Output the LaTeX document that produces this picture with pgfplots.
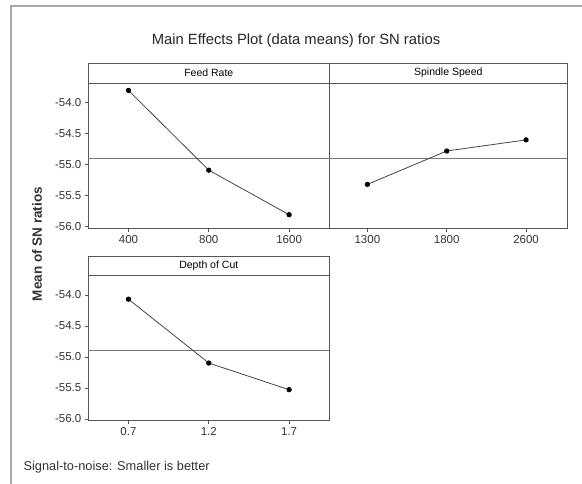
\documentclass[border=0pt]{standalone}
\usepackage{fontspec}
\setmainfont{Liberation Sans}
\usepackage{pgfplots}
\pgfplotsset{compat=1.18}
\definecolor{axgray}{RGB}{85,85,85}
\definecolor{linegray}{RGB}{70,70,70}
\definecolor{meangray}{RGB}{120,120,120}
\definecolor{framegray}{RGB}{170,170,170}
\pgfplotsset{
  mepanel/.style={
    scale only axis, anchor=north west,
    ymin=-56.03, ymax=-53.68,
    xtick={0,1,2},
    axis line style={axgray, line width=0.8pt},
    tick style={axgray, line width=0.6pt},
    tick align=outside, major tick length=3.5pt,
    xtick pos=bottom, ytick pos=left,
    tick label style={font=\fontsize{11.5}{12}\selectfont, text=black!80},
    clip=false,
  },
  effline/.style={linegray, line width=0.8pt, mark=*, mark size=2.2pt, mark options={fill=black, draw=black}},
  meanline/.style={meangray, line width=0.9pt, no marks},
}
\newcommand{\stripfont}{\fontsize{10.5}{12}\selectfont}
\begin{document}
\begin{tikzpicture}
\path[use as bounding box] (0pt,0pt) rectangle (582pt,-484pt);
\draw[framegray, line width=2pt] (11pt,-484pt) -- (11pt,-6pt) -- (582pt,-6pt);
\node[font=\fontsize{14.8}{16}\selectfont, text=black!85] at (296pt,-41pt) {Main Effects Plot (data means) for SN ratios};
\node[rotate=90, font=\bfseries\fontsize{13.5}{15}\selectfont, text=black!80] at (37pt,-244pt) {Mean of SN ratios};
\node[anchor=west, font=\fontsize{12.8}{14}\selectfont, text=black!80] at (20pt,-467pt) {Signal-to-noise: Smaller is better};

% Feed Rate
\begin{axis}[mepanel, at={(88.3pt,-83pt)}, width=241pt, height=145.3pt,
  xmin=-0.5, xmax=2.5, xticklabels={400,800,1600},
  ytick={-56,-55.5,-55,-54.5,-54}, yticklabels={-56.0,-55.5,-55.0,-54.5,-54.0}]
\addplot[meanline] coordinates {(-0.5,-54.90) (2.5,-54.90)};
\addplot[effline] coordinates {(0,-53.80) (1,-55.09) (2,-55.81)};
\draw[axgray, line width=0.8pt] (rel axis cs:0,1) rectangle ([yshift=20pt]rel axis cs:1,1);
\node[font=\stripfont] at ([yshift=10pt]rel axis cs:0.5,1) {Feed Rate};
\end{axis}

% Spindle Speed
\begin{axis}[mepanel, at={(329.3pt,-83pt)}, width=238pt, height=145.3pt,
  xmin=-0.48, xmax=2.52, xticklabels={1300,1800,2600},
  ytick=\empty]
\addplot[meanline] coordinates {(-0.48,-54.90) (2.52,-54.90)};
\addplot[effline] coordinates {(0,-55.32) (1,-54.78) (2,-54.60)};
\draw[axgray, line width=0.8pt] (rel axis cs:0,1) rectangle ([yshift=20pt]rel axis cs:1,1);
\node[font=\stripfont] at ([yshift=10pt]rel axis cs:0.5,1) {Spindle Speed};
\end{axis}

% Depth of Cut
\begin{axis}[mepanel, at={(88.3pt,-275pt)}, width=241pt, height=145.7pt,
  xmin=-0.5, xmax=2.5, xticklabels={0.7,1.2,1.7},
  ytick={-56,-55.5,-55,-54.5,-54}, yticklabels={-56.0,-55.5,-55.0,-54.5,-54.0}]
\addplot[meanline] coordinates {(-0.5,-54.90) (2.5,-54.90)};
\addplot[effline] coordinates {(0,-54.07) (1,-55.10) (2,-55.53)};
\draw[axgray, line width=0.8pt] (rel axis cs:0,1) rectangle ([yshift=18.5pt]rel axis cs:1,1);
\node[font=\stripfont] at ([yshift=9.25pt]rel axis cs:0.5,1) {Depth of Cut};
\end{axis}
\end{tikzpicture}
\end{document}
